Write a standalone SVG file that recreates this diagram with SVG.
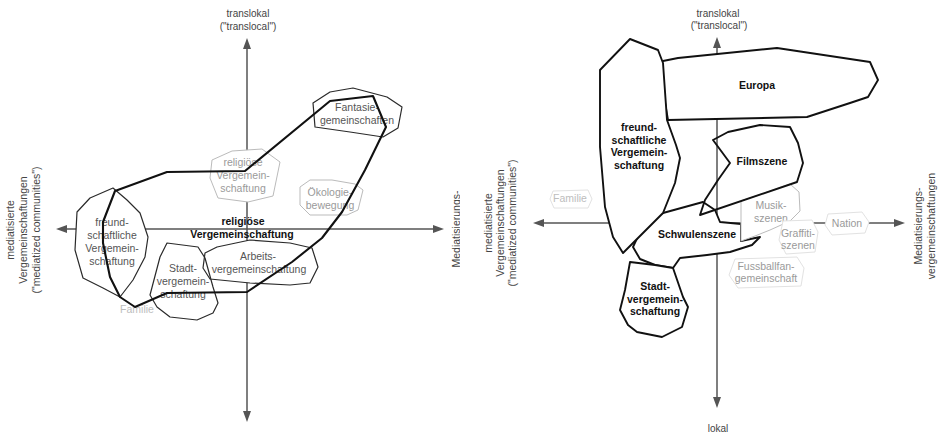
<svg xmlns="http://www.w3.org/2000/svg" width="943" height="434" viewBox="0 0 943 434">
<defs>
<style>
text{font-family:"Liberation Sans",Arial,sans-serif;}
.ax{stroke:#555;stroke-width:1.5;fill:none;}
.ah{fill:#555;stroke:none;}
.axl{font-size:10px;fill:#444;text-anchor:middle;}
.side{font-size:10.5px;fill:#444;text-anchor:middle;}
.blk{fill:#fff;stroke:#2a2a2a;stroke-width:1.2;stroke-linejoin:round;}
.blkn{fill:none;stroke:#2a2a2a;stroke-width:1.2;stroke-linejoin:round;}
.gry{fill:#fff;stroke:#bbb;stroke-width:1;stroke-linejoin:round;}
.fnt{fill:#fff;stroke:#e2e2e2;stroke-width:1;stroke-linejoin:round;}
.thk{fill:#fff;stroke:#111;stroke-width:1.9;stroke-linejoin:round;}
.thkn{fill:none;stroke:#111;stroke-width:1.9;stroke-linejoin:round;}
.big{fill:none;stroke:#111;stroke-width:2.1;stroke-linejoin:round;}
.lb{font-size:10.5px;fill:#555;text-anchor:middle;}
.lg{font-size:10.5px;fill:#9a9a9a;text-anchor:middle;}
.lf{font-size:10.5px;fill:#bdbdbd;text-anchor:middle;}
.bd{font-size:10.5px;font-weight:bold;fill:#111;text-anchor:middle;}
</style>
<clipPath id="clipL"><rect x="0" y="0" width="460" height="434"/></clipPath>
</defs>
<rect width="943" height="434" fill="#fff"/>

<!-- LEFT PANEL -->
<g id="left-axes">
<line class="ax" x1="247" y1="46" x2="247" y2="414"/>
<polygon class="ah" points="247,38 243,49 251,49"/>
<polygon class="ah" points="247,422 243,411 251,411"/>
<line class="ax" x1="64" y1="229" x2="436" y2="229"/>
<polygon class="ah" points="56,229 67,225 67,233"/>
<polygon class="ah" points="444,229 433,225 433,233"/>
<text class="axl" x="248" y="16.5">translokal</text>
<text class="axl" x="248" y="29.5">("translocal")</text>
<g transform="translate(0,230) rotate(-90)">
<text class="side" x="0" y="14">mediatisierte</text>
<text class="side" x="0" y="27">Vergemeinschaftungen</text>
<text class="side" x="0" y="40">("mediatized communities")</text>
</g>
<g clip-path="url(#clipL)">
<text class="side" transform="translate(460,229) rotate(-90)" x="0" y="0">Mediatisierungs-</text>
</g>
</g>

<g id="l-freund">
<polygon class="blk" points="77,212 90,198 113,188 127,200 140,213 148,237 145,257 133,280 120,297 103,288 83,278 75,250"/>
<text class="lb" x="112" y="226">freund-</text>
<text class="lb" x="112" y="239">schaftliche</text>
<text class="lb" x="112" y="252">Vergemein-</text>
<text class="lb" x="112" y="265">schaftung</text>
</g>
<g id="l-religioes-klein">
<polygon class="gry" points="212,160 232,151 262,149 280,162 273,196 248,202 218,198 210,178"/>
<text class="lg" x="243" y="166">religiöse</text>
<text class="lg" x="243" y="179">Vergemein-</text>
<text class="lg" x="243" y="192">schaftung</text>
</g>
<g id="l-oekologie">
<polygon class="gry" points="300,187 310,180 332,180 355,184 363,190 358,210 347,215 310,215 300,205"/>
<text class="lg" x="330" y="196">Ökologie-</text>
<text class="lg" x="330" y="209">bewegung</text>
</g>
<g id="l-fantasie">
<polygon class="blk" points="313,103 330,92 353,88 387,97 402,107 398,128 383,137 350,132 315,127"/>
<text class="lb" x="357" y="111">Fantasie-</text>
<text class="lb" x="357" y="124">gemeinschaften</text>
</g>
<g id="l-arbeit">
<polygon class="blk" points="205,253 217,247 250,240 290,243 312,248 318,267 310,283 290,285 250,283 210,279 203,268"/>
<text class="lb" x="258" y="260">Arbeits-</text>
<text class="lb" x="259" y="273">vergemeinschaftung</text>
</g>
<g id="l-stadt">
<polygon class="blkn" points="150,295 160,257 167,243 198,247 205,258 213,287 218,303 213,313 197,320 170,317 157,307"/>
<text class="lb" x="183" y="272">Stadt-</text>
<text class="lb" x="183" y="285">vergemein-</text>
<text class="lb" x="183" y="298">schaftung</text>
</g>
<g id="l-familie">
<text class="lf" x="137" y="313">Familie</text>
</g>
<g id="l-religioes">
<text class="bd" x="243" y="225">religiöse</text>
<text class="bd" x="242" y="238">Vergemeinschaftung</text>
<path class="big" d="M115,191 L167,172 L245,171 L330,101 L373,96 L386,127 L365,170 L342,212 L322,238 L292,262 L247,292 L167,293 L135,307 L120,297 L110,277 L103,243 L103,222 Z"/>
</g>

<!-- RIGHT PANEL -->
<g id="right-axes">
<line class="ax" x1="717" y1="45" x2="717" y2="400"/>
<polygon class="ah" points="717,37 713,48 721,48"/>
<polygon class="ah" points="717,408 713,397 721,397"/>
<line class="ax" x1="541" y1="223" x2="897" y2="223"/>
<polygon class="ah" points="533,223 544,219 544,227"/>
<polygon class="ah" points="905,223 894,219 894,227"/>
<text class="axl" x="718" y="16.5">translokal</text>
<text class="axl" x="719" y="28.5">("translocal")</text>
<text class="axl" x="718" y="431.5">lokal</text>
<g transform="translate(0,223) rotate(-90)">
<text class="side" x="0" y="492">mediatisierte</text>
<text class="side" x="0" y="504">Vergemeinschaftungen</text>
<text class="side" x="0" y="516">("mediatized communities")</text>
</g>
<g transform="translate(0,226) rotate(-90)">
<text class="side" x="0" y="922">Mediatisierungs-</text>
<text class="side" x="0" y="935">vergemeinschaftungen</text>
</g>
</g>

<g id="r-europa">
<polygon class="thk" points="658,62 678,58 777,48 870,62 878,80 868,97 850,103 807,117 668,120"/>
<text class="bd" x="757" y="89">Europa</text>
</g>
<g id="r-schwulen">
<polygon class="thk" points="650,218 663,213 703,202 715,210 720,222 741,224 741,241 760,237 752,245 730,252 707,255 680,258 673,268 655,265 640,259 633,247 640,232"/>
</g>
<g id="r-stadt">
<polygon class="thk" points="630,262 655,265 673,268 683,297 688,307 682,327 662,337 637,332 628,325 620,310 625,290"/>
<text class="bd" x="655" y="290">Stadt-</text>
<text class="bd" x="655" y="302.5">vergemein-</text>
<text class="bd" x="655" y="315">schaftung</text>
</g>
<g id="r-freund">
<polygon class="thk" points="600,70 630,39 658,50 663,63 667,120 676,145 680,158 675,183 663,213 623,253 613,237 605,207 600,147"/>
<text class="bd" x="639" y="131">freund-</text>
<text class="bd" x="639" y="143.5">schaftliche</text>
<text class="bd" x="639" y="156">Vergemein-</text>
<text class="bd" x="639" y="168.5">schaftung</text>
</g>
<g id="r-musik">
<polygon class="gry" points="741,241 741,201 790,184 799,192 800,211 790,221 770,230 755,236"/>
<text class="lg" x="771" y="209">Musik-</text>
<text class="lg" x="771" y="222">szenen</text>
</g>
<g id="r-film">
<polygon class="thkn" points="713,140 728,132 760,125 790,127 798,143 803,163 797,182 700,215 705,200 718,180 730,163"/>
<text class="bd" x="762" y="165">Filmszene</text>
</g>
<text class="bd" x="697" y="238">Schwulenszene</text>
<g id="r-graffiti">
<polygon class="fnt" points="783,221 812,220 818,232 815,252 786,254 779,240"/>
<text class="lg" x="798" y="236.5">Graffiti-</text>
<text class="lg" x="798" y="248.5">szenen</text>
</g>
<g id="r-nation">
<polygon class="fnt" points="828,214 862,212 869,222 865,233 832,235 825,225"/>
<text class="lg" x="847" y="226.5">Nation</text>
</g>
<g id="r-fussball">
<polygon class="fnt" points="735,259 797,257 804,268 801,286 738,288 729,275"/>
<text class="lg" x="766" y="269.5">Fussballfan-</text>
<text class="lg" x="766" y="281.5">gemeinschaft</text>
</g>
<g id="r-familie">
<polygon class="fnt" points="553,191 588,190 592,199 588,208 554,208 550,199"/>
<text class="lf" x="570" y="201.5">Familie</text>
</g>
</svg>
